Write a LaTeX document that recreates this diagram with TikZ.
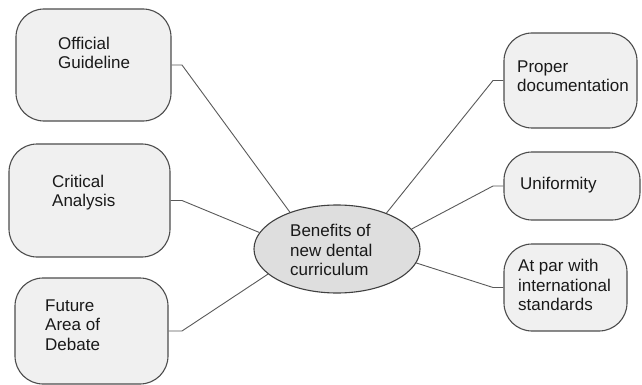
\documentclass[tikz,border=0pt]{standalone}
\usepackage{fontspec}
\setmainfont{Liberation Sans}
\usetikzlibrary{shapes.geometric}

\begin{document}
\begin{tikzpicture}[x=1pt, y=-1pt,
    leaf/.style={draw=black!70, fill=black!6, line width=1.1pt, rounded corners=28pt, inner sep=0pt},
    hub/.style={ellipse, draw=black!75, fill=black!13, line width=1.1pt, inner sep=0pt,
                minimum width=166pt, minimum height=88pt},
    txt/.style={align=left, anchor=west, inner sep=0pt, text=black!90,
                font=\fontsize{17}{19.5}\selectfont},
    link/.style={draw=black!65, line width=0.9pt}]
  \useasboundingbox (0,0) rectangle (642,385);

  % centre
  \node[hub] (bene) at (337,249) {};
  \node[txt] (bene-t) at (290,250) {Benefits of\\new dental\\curriculum};

  % left side
  \node[leaf, minimum width=155pt, minimum height=112pt] (official) at (93.5,65) {};
  \node[txt] (official-t) at (58,53) {Official\\Guideline};
  \node[leaf, minimum width=161pt, minimum height=113pt] (critical) at (89.5,200.5) {};
  \node[txt] (critical-t) at (52,192.5) {Critical\\Analysis};
  \node[leaf, minimum width=153pt, minimum height=106pt] (future) at (91.5,331) {};
  \node[txt] (future-t) at (45,325) {Future\\Area of\\Debate};

  % right side
  \node[leaf, minimum width=133pt, minimum height=95pt] (proper) at (570.5,80.5) {};
  \node[txt] (proper-t) at (517,76) {Proper\\documentation};
  \node[leaf, minimum width=136pt, minimum height=68pt] (uniform) at (572,186) {};
  \node[txt] (uniform-t) at (520,185) {Uniformity};
  \node[leaf, minimum width=123pt, minimum height=87pt] (atpar) at (565.5,287.5) {};
  \node[txt] (atpar-t) at (518,285) {At par with\\international\\standards};

  % elbows
  \coordinate (official-e) at (182,65);
  \coordinate (critical-e) at (182,200.5);
  \coordinate (future-e) at (182,331);
  \coordinate (proper-e) at (493,80.5);
  \coordinate (uniform-e) at (493,186);
  \coordinate (atpar-e) at (493,287.5);

  \draw[link] (official.east) -- (official-e) -- (bene.142.9);
  \draw[link] (critical.east) -- (critical-e) -- (bene.168.5);
  \draw[link] (future.east) -- (future-e) -- (bene.200.4);
  \draw[link] (proper.west) -- (proper-e) -- (bene.36);
  \draw[link] (uniform.west) -- (uniform-e) -- (bene.15.4);
  \draw[link] (atpar.west) -- (atpar-e) -- (bene.350);
\end{tikzpicture}
\end{document}
